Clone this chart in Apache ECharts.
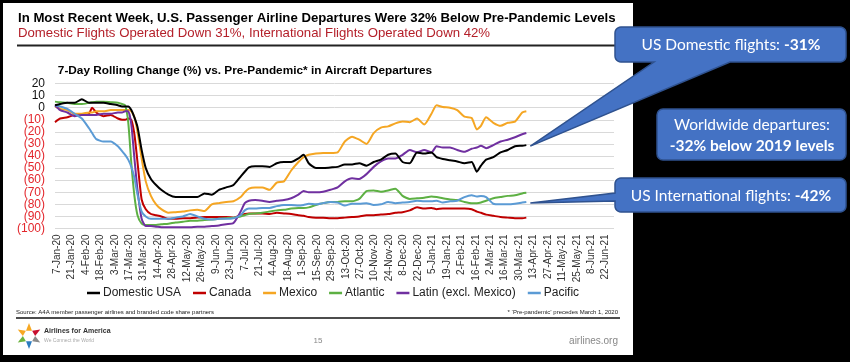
<!DOCTYPE html>
<html><head><meta charset="utf-8">
<script src="https://cdn.jsdelivr.net/npm/echarts@6/dist/echarts.min.js"></script>
<style>
html,body{margin:0;padding:0;background:#000;width:850px;height:362px;overflow:hidden;}
#slide{position:absolute;left:3px;top:3px;width:630px;height:352px;background:#fff;}
#c{position:absolute;left:0;top:0;width:850px;height:362px;}
</style>
</head><body><div id="slide"></div><div id="c"></div>
<script>
const dates = ['2020-01-05','2020-01-10','2020-01-17','2020-01-24','2020-01-31','2020-02-07','2020-02-10','2020-02-14','2020-02-21','2020-02-28',
'2020-03-06','2020-03-10','2020-03-13','2020-03-16','2020-03-19','2020-03-22','2020-03-25','2020-03-29','2020-04-02','2020-04-07',
'2020-04-12','2020-04-17','2020-04-24','2020-05-01','2020-05-08','2020-05-15','2020-05-22','2020-05-29','2020-06-05','2020-06-12',
'2020-06-19','2020-06-26','2020-07-03','2020-07-07','2020-07-11','2020-07-17','2020-07-24','2020-07-31','2020-08-07','2020-08-14',
'2020-08-21','2020-08-28','2020-09-02','2020-09-07','2020-09-14','2020-09-21','2020-09-28','2020-10-05','2020-10-12','2020-10-19',
'2020-10-26','2020-11-02','2020-11-09','2020-11-16','2020-11-23','2020-11-30','2020-12-07','2020-12-14','2020-12-21','2020-12-28',
'2021-01-04','2021-01-09','2021-01-15','2021-01-22','2021-01-29','2021-02-05','2021-02-12','2021-02-17','2021-02-21','2021-02-26',
'2021-03-05','2021-03-12','2021-03-19','2021-03-26','2021-04-02','2021-04-06'];

const domesticUSA = [2,3,4,4,7,4,4,4,4,3,
 2,1,1,1,-2,-8,-16,-35,-50,-59,
 -64,-68,-72,-74,-74,-74,-74,-71,-72,-68,
 -66,-64,-57,-53,-49.5,-48.5,-48.5,-49,-46,-45,
 -45,-42,-39,-46,-50,-50,-49.5,-49,-47,-47,
 -46,-48,-45,-43,-39,-38,-45,-46,-37,-38,
 -37,-41,-42.5,-43.5,-44.5,-46,-45,-53,-48,-43,
 -41,-37,-35,-32,-31.5,-31];
const canada = [-12,-9,-8,-6,-6,-5,0,-4,-7,-6,
 -9,-10,-10,-9,-10,-22,-45,-76,-84,-88,
 -89,-90,-92,-92,-91.5,-91.5,-91,-90.5,-90.5,-90.5,
 -90.5,-91,-89,-88,-87.5,-87.5,-87.5,-88,-87,-87.5,
 -88,-89,-89.5,-90.5,-91,-91,-91.5,-91.5,-91,-90.5,
 -90,-89,-89,-88.5,-88,-87,-86.5,-85,-82.5,-83.5,
 -83,-84,-83.5,-83.5,-83.5,-83.5,-84,-86,-87,-88.5,
 -89.5,-90.5,-91,-91.5,-91.5,-91];
const mexico = [1,-1,-2,-5,-5,-4,-4,-3,-3,-2,
 -2,-2,-2,-2,-3,-8,-20,-42,-61,-73,
 -80,-84,-87,-86.5,-86,-85,-84.5,-85.5,-80,-79,
 -78,-77.5,-74,-70,-67,-66,-66,-68,-62,-61,
 -52,-45,-41,-39,-38,-37.5,-37.5,-37,-28,-24,
 -26.5,-30,-21,-16.5,-15.5,-13,-11.5,-12,-9,-14,
 -5,2,0.5,0,-2,-7.5,-8.5,-18,-15,-8,
 -12.5,-15,-12.5,-11.5,-4,-3];
const atlantic = [5,4.5,4,3,3,4,4.5,5,5,4.5,
 4,3,2,-12,-46,-73,-89,-96,-97,-97,
 -97,-96.5,-96,-95,-94.5,-93.5,-93.5,-93,-92.5,-92,
 -91.5,-91,-90,-89,-88,-87.5,-87,-86,-85,-84.5,
 -83.5,-83,-83,-82.5,-80.5,-79,-78,-78,-77.5,-77.5,
 -75.5,-69,-68.5,-69.5,-68.5,-67,-73,-75.5,-75,-74.5,
 -73.5,-74,-75,-76,-76.5,-78,-79,-79,-78.5,-77,
 -75,-74,-73,-72.5,-71,-70.5];
const latin = [2,-2,-4,-7,-6,-6,-6,-6,-5,-5,
 -4,-4,-3,-3,-14,-42,-68,-92,-98,-98,
 -98.5,-99,-99,-99,-99,-99,-98.5,-98.5,-98,-97.5,
 -96.5,-95.5,-86,-79,-77,-76.5,-77,-78,-77,-76.5,
 -75,-72,-69,-70,-70,-69.5,-68,-66,-61,-58.5,
 -59,-55,-49,-44.5,-42,-42,-39,-35,-37,-35,
 -37,-32,-33,-33,-35,-36.5,-34,-33,-31.5,-33.5,
 -31,-28,-26.5,-24.5,-22,-21];
const pacific = [2,1,-1,-5,-9,-17,-21,-26,-28,-28,
 -32,-36,-39,-43,-49,-58,-72,-86,-90,-92,
 -92,-92,-92,-91,-90,-88,-90,-92,-92.5,-92,
 -92,-91.5,-89,-85,-83.5,-83.5,-83,-83,-81.5,-80.5,
 -80.5,-81,-80.5,-79.5,-80,-79,-78,-78.5,-81,-79.5,
 -79.5,-79,-80.5,-80,-78,-79,-78.5,-78,-77,-77.5,
 -77.5,-77,-78.5,-77.5,-77,-74,-72.5,-73.5,-73,-74,
 -79.5,-80,-80,-79.5,-78.5,-78];

const tickLabels = ['7-Jan-20','21-Jan-20','4-Feb-20','18-Feb-20','3-Mar-20','17-Mar-20','31-Mar-20','14-Apr-20','28-Apr-20','12-May-20',
 '26-May-20','9-Jun-20','23-Jun-20','7-Jul-20','21-Jul-20','4-Aug-20','18-Aug-20','1-Sep-20','15-Sep-20','29-Sep-20',
 '13-Oct-20','27-Oct-20','10-Nov-20','24-Nov-20','8-Dec-20','22-Dec-20','5-Jan-21','19-Jan-21','2-Feb-21','16-Feb-21',
 '2-Mar-21','16-Mar-21','30-Mar-21','13-Apr-21','27-Apr-21','11-May-21','25-May-21','8-Jun-21','22-Jun-21'];
const yTicks = [20,10,0,-10,-20,-30,-40,-50,-60,-70,-80,-90,-100];

const seriesNames = ['Domestic USA','Canada','Mexico','Atlantic','Latin (excl. Mexico)','Pacific'];
const seriesColors = ['#000000','#c00000','#f5a623','#5db043','#7030a0','#5b9bd5'];
const seriesValues = [domesticUSA, canada, mexico, atlantic, latin, pacific];

const FONT = '"Liberation Sans", Arial, sans-serif';
const CFONT = 'Lato, "Open Sans", sans-serif';
const base = Date.UTC(2020,0,7);
const dayOf = s => { const p = s.split('-').map(Number); return Math.round((Date.UTC(p[0],p[1]-1,p[2]) - base)/86400000); };
const xs = dates.map(dayOf);
const tickDays = tickLabels.map((_, i) => i * 14);

const chart = echarts.init(document.getElementById('c'), null, {renderer:'canvas'});
chart.setOption({
  animation:false,
  backgroundColor:'transparent',
  grid:{left:55, right:236, top:83.5, bottom:133.5, containLabel:false},
  xAxis:{type:'value', min:-2, max:540,
    axisLine:{show:false}, axisTick:{show:false}, splitLine:{show:false},
    axisLabel:{customValues:tickDays, rotate:90, fontSize:10, color:'#333', fontFamily:FONT, margin:6,
      formatter: v => { const i = Math.round(v/14); return (Math.abs(v - i*14) < 0.01 && tickLabels[i]) ? tickLabels[i] : ''; }}},
  yAxis:{type:'value', min:yTicks[yTicks.length-1], max:yTicks[0], interval:10,
    axisLine:{show:false}, axisTick:{show:false},
    splitLine:{lineStyle:{color:'#d9d9d9', width:1}},
    axisLabel:{fontSize:12, fontFamily:FONT, margin:10,
      color: v => Number(v) < 0 ? '#e3262c' : '#111',
      formatter: v => v < 0 ? '(' + (-v) + ')' : String(v)}},
  legend:{left:82, top:282, icon:'rect', itemWidth:13, itemHeight:2.5, itemGap:12,
    textStyle:{fontSize:12, fontFamily:FONT, color:'#222', padding:[0,0,0,-2]},
    data:seriesNames},
  series: seriesNames.map((n, i) => ({
    name:n, type:'line', showSymbol:false, smooth:0.2, z: i === 0 ? 5 : 2,
    data: xs.map((x, j) => [x, seriesValues[i][j]]),
    lineStyle:{width:2, color:seriesColors[i]}, itemStyle:{color:seriesColors[i]}
  }))
});

const last = xs.length - 1;
const tipDom = chart.convertToPixel({gridIndex:0}, [xs[last], domesticUSA[last]]);
const tipInt = chart.convertToPixel({gridIndex:0}, [xs[last], pacific[last]]);

function arcPts(cx, cy, r, a0, a1){
  const pts = [];
  for (let k = 0; k <= 6; k++){ const a = a0 + (a1 - a0)*k/6; pts.push([cx + r*Math.cos(a), cy + r*Math.sin(a)]); }
  return pts;
}
const H = Math.PI/2;
function calloutBottom(x0,y0,x1,y1,r,bx1,bx2,tx,ty){
  return [].concat(arcPts(x0+r,y0+r,r,2*H,3*H), arcPts(x1-r,y0+r,r,3*H,4*H), arcPts(x1-r,y1-r,r,0,H),
    [[bx2,y1],[tx,ty],[bx1,y1]], arcPts(x0+r,y1-r,r,H,2*H));
}
function calloutLeft(x0,y0,x1,y1,r,by1,by2,tx,ty){
  return [].concat(arcPts(x0+r,y0+r,r,2*H,3*H), arcPts(x1-r,y0+r,r,3*H,4*H), arcPts(x1-r,y1-r,r,0,H),
    arcPts(x0+r,y1-r,r,H,2*H), [[x0,by2],[tx,ty],[x0,by1]]);
}
const BOX = {fill:'#4472c4', stroke:'#2f528f', lineWidth:1.5};
const logoColors = ['#f7a823','#c8102e','#8a8a8a','#2b7bbf','#6cb33f','#f7a823'];
const logo = logoColors.map((c, k) => {
  const a = -Math.PI/2 + k*Math.PI/3, cx = 29 + 8*Math.cos(a), cy = 336 + 8*Math.sin(a);
  const p = [[cx + 5*Math.cos(a), cy + 5*Math.sin(a)], [cx + 4*Math.cos(a+2.3), cy + 4*Math.sin(a+2.3)], [cx + 4*Math.cos(a-2.3), cy + 4*Math.sin(a-2.3)]];
  return {type:'polygon', shape:{points:p}, style:{fill:c}};
});

chart.setOption({graphic: [
  {type:'text', x:18, y:18, style:{text:'In Most Recent Week, U.S. Passenger Airline Departures Were 32% Below Pre-Pandemic Levels', font:'bold 13.2px ' + FONT, fill:'#000', verticalAlign:'middle'}},
  {type:'text', x:18, y:33.5, style:{text:'Domestic Flights Operated Down 31%, International Flights Operated Down 42%', font:'13.2px ' + FONT, fill:'#b4202a', verticalAlign:'middle'}},
  {type:'line', shape:{x1:17, y1:45.5, x2:616, y2:45.5}, style:{stroke:'#222', lineWidth:2}},
  {type:'text', x:245, y:71, style:{text:'7-Day Rolling Change (%) vs. Pre-Pandemic* in Aircraft Departures', font:'bold 11.8px ' + FONT, fill:'#000', align:'center', verticalAlign:'middle'}},
  {type:'text', x:16, y:312, style:{text:'Source: A4A member passenger airlines and branded code share partners', font:'6px ' + FONT, fill:'#222', verticalAlign:'middle'}},
  {type:'text', x:618, y:312, style:{text:'* \u2018Pre-pandemic\u2019 precedes March 1, 2020', font:'6px ' + FONT, fill:'#222', align:'right', verticalAlign:'middle'}},
  {type:'line', shape:{x1:16, y1:318, x2:620, y2:318}, style:{stroke:'#111', lineWidth:1.5}},
  ...logo,
  {type:'text', x:44, y:331, style:{text:'Airlines for America', font:'bold 7px ' + FONT, fill:'#333', verticalAlign:'middle'}},
  {type:'text', x:44, y:341, style:{text:'We Connect the World', font:'5px ' + FONT, fill:'#aaa', verticalAlign:'middle'}},
  {type:'text', x:318, y:341, style:{text:'15', font:'8px ' + FONT, fill:'#888', align:'center', verticalAlign:'middle'}},
  {type:'text', x:618, y:341, style:{text:'airlines.org', font:'10px ' + FONT, fill:'#888', align:'right', verticalAlign:'middle'}},
  {type:'polygon', z:50, shape:{points: calloutBottom(615,27,846,62,6,654,730,tipDom[0]+4,tipDom[1]+1)}, style:BOX},
  {type:'text', z:51, x:731, y:44.5, style:{text:'{a|US Domestic flights: }{b|-31%}', align:'center', verticalAlign:'middle',
     rich:{a:{font:'15.5px ' + CFONT, fill:'#fff'}, b:{font:'bold 15.5px ' + CFONT, fill:'#fff'}}}},
  {type:'rect', z:50, shape:{x:657, y:109, width:189, height:51, r:6}, style:BOX},
  {type:'text', z:51, x:752, y:125, style:{text:'Worldwide departures:', font:'15.5px ' + CFONT, fill:'#fff', align:'center', verticalAlign:'middle'}},
  {type:'text', z:51, x:752, y:146, style:{text:'-32% below 2019 levels', font:'bold 15.5px ' + CFONT, fill:'#fff', align:'center', verticalAlign:'middle'}},
  {type:'polygon', z:50, shape:{points: calloutLeft(615,178,846,212,6,193,201,tipInt[0]+4,tipInt[1]+1)}, style:BOX},
  {type:'text', z:51, x:731, y:195.5, style:{text:'{a|US International flights: }{b|-42%}', align:'center', verticalAlign:'middle',
     rich:{a:{font:'15.5px ' + CFONT, fill:'#fff'}, b:{font:'bold 15.5px ' + CFONT, fill:'#fff'}}}}
]});
</script>
</body></html>
